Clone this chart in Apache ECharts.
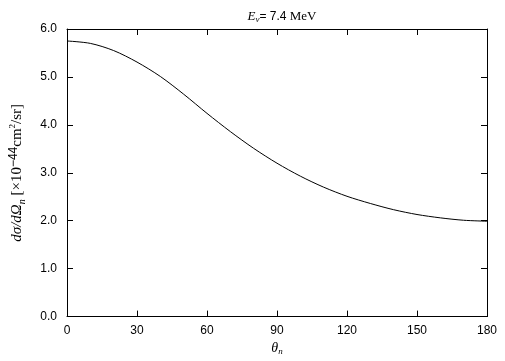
<!DOCTYPE html>
<html>
<head>
<meta charset="utf-8">
<script src="https://cdn.jsdelivr.net/npm/echarts@6/dist/echarts.min.js"></script>
<style>
  html, body { margin: 0; padding: 0; background: #fff; }
  #chart { width: 505px; height: 361px; }
</style>
</head>
<body>
<div id="chart"></div>
<script>
// angle in degrees and cross section
var angles = [0, 10, 20, 30, 40, 50, 60, 70, 80, 90, 100, 110, 120, 130, 140, 150, 160, 170, 180];
var sigma = [5.75, 5.70, 5.55, 5.31, 5.01, 4.64, 4.24, 3.86, 3.51, 3.20, 2.93, 2.70, 2.51, 2.36, 2.23, 2.13, 2.06, 2.01, 1.99];
var xTicks = [0, 30, 60, 90, 120, 150, 180];
var yTicks = [0, 1, 2, 3, 4, 5, 6];

var serif = "Liberation Serif";
var sans = "Liberation Sans";

var chart = echarts.init(document.getElementById("chart"));

// gnuplot style box: ticks point into the plot on all four sides
function frameLine() {
  return { show: true, onZero: false, lineStyle: { color: "#000", width: 1 } };
}
function frameTick() {
  return { show: true, inside: true, length: 6, lineStyle: { color: "#000", width: 1 } };
}

var option = {
  animation: false,
  title: {
    text: "{it|E}{sub|ν}{n|= 7.4 }{rm|MeV}",
    left: 277,
    top: 4,
    textAlign: "center",
    textStyle: {
      fontWeight: "normal",
      rich: {
        it: { fontFamily: serif, fontStyle: "italic", fontWeight: "normal", fontSize: 13, color: "#000" },
        sub: { fontFamily: serif, fontStyle: "italic", fontWeight: "normal", fontSize: 9, color: "#000", verticalAlign: "bottom", padding: [6, 0, 0, 0] },
        n: { fontFamily: sans, fontWeight: "normal", fontSize: 12, color: "#000" },
        rm: { fontFamily: serif, fontWeight: "normal", fontSize: 13, color: "#000" }
      }
    }
  },
  grid: { left: 67, right: 18, top: 29, bottom: 41 },
  xAxis: [
    {
      type: "value",
      min: 0, max: 180, interval: 30,
      axisLine: frameLine(),
      axisTick: frameTick(),
      splitLine: { show: false },
      axisLabel: { color: "#000", fontFamily: sans, fontSize: 12, margin: 8, customValues: xTicks },
      name: "{it|θ}{sub|n}",
      nameLocation: "middle",
      nameGap: 22,
      nameTextStyle: {
        rich: {
          it: { fontFamily: serif, fontStyle: "italic", fontSize: 14, color: "#000" },
          sub: { fontFamily: serif, fontStyle: "italic", fontSize: 9, color: "#000", verticalAlign: "bottom", padding: [6, 0, 0, 0] }
        }
      }
    },
    {
      type: "value", position: "top",
      min: 0, max: 180, interval: 30,
      axisLine: frameLine(),
      axisTick: frameTick(),
      axisLabel: { show: false },
      splitLine: { show: false }
    }
  ],
  yAxis: [
    {
      type: "value",
      min: 0, max: 6, interval: 1,
      axisLine: frameLine(),
      axisTick: frameTick(),
      splitLine: { show: false },
      axisLabel: { color: "#000", fontFamily: sans, fontSize: 12, margin: 10, customValues: yTicks,
        formatter: function (v) { return v.toFixed(1); } },
      name: "{it|dσ/dΩ}{sub|n}{rm| [×10}{sup|−44}{rm|cm}{sup2|2}{rm|/sr]}",
      nameLocation: "middle",
      nameRotate: 90,
      nameGap: 40,
      nameTextStyle: {
        rich: {
          it: { fontFamily: serif, fontStyle: "italic", fontSize: 15, color: "#000" },
          sub: { fontFamily: serif, fontStyle: "italic", fontSize: 10, color: "#000", verticalAlign: "bottom", padding: [7, 0, 0, 0] },
          rm: { fontFamily: serif, fontSize: 15, color: "#000" },
          sup: { fontFamily: sans, fontSize: 12, color: "#000", verticalAlign: "top", padding: [0, 0, 7, 0] },
          sup2: { fontFamily: serif, fontSize: 9, color: "#000", verticalAlign: "top", padding: [0, 0, 7, 0] }
        }
      }
    },
    {
      type: "value", position: "right",
      min: 0, max: 6, interval: 1,
      axisLine: frameLine(),
      axisTick: frameTick(),
      axisLabel: { show: false },
      splitLine: { show: false }
    }
  ],
  series: [
    {
      type: "line",
      data: angles.map(function (a, i) { return [a, sigma[i]]; }),
      smooth: 0.3,
      showSymbol: false,
      lineStyle: { color: "#000", width: 1 }
    }
  ]
};

chart.setOption(option);
</script>
</body>
</html>
